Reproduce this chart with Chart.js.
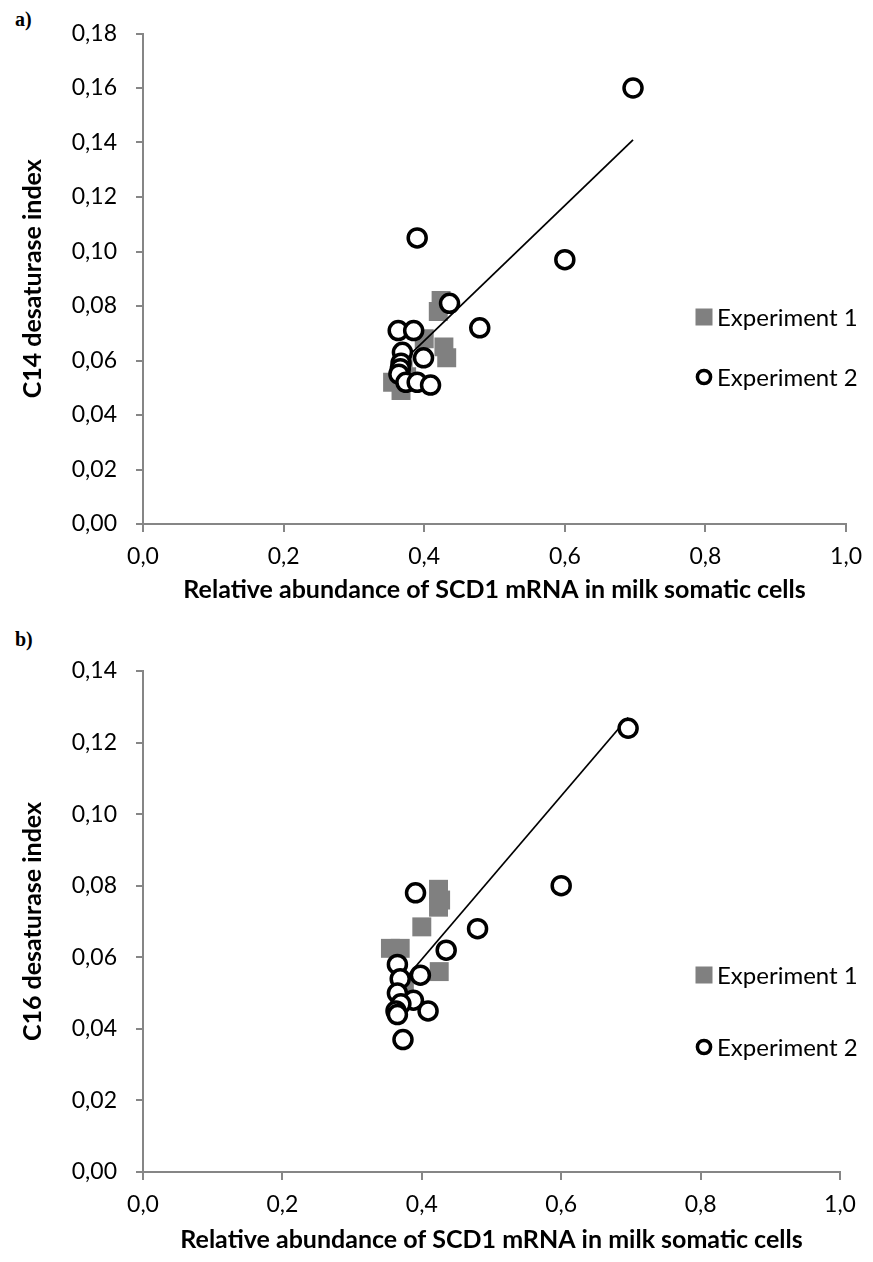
<!DOCTYPE html>
<html>
<head>
<meta charset="utf-8">
<script src="https://cdn.jsdelivr.net/npm/chart.js@4/dist/chart.umd.min.js"></script>
<style>
  body { margin: 0; background: #fff; width: 873px; height: 1262px; position: relative; overflow: hidden; }
  .panel { position: absolute; left: 0; }
  .tag { position: absolute; left: 15px; font: bold 20px "Liberation Serif", serif; color: #000; }
</style>
</head>
<body>
<div class="tag" style="top:8px">a)</div>
<div class="panel" style="top:0"><canvas id="chartA" width="873" height="615"></canvas></div>
<div class="tag" style="top:628px">b)</div>
<div class="panel" style="top:620px"><canvas id="chartB" width="873" height="642"></canvas></div>
<script>
var X_TITLE = 'Relative abundance of SCD1 mRNA in milk somatic cells';
var SERIES = ['Experiment 1', 'Experiment 2'];

// panel a: C14 index
var c14Exp1 = [[0.355, 0.052], [0.367, 0.049], [0.370, 0.058], [0.375, 0.054], [0.400, 0.068],
  [0.420, 0.078], [0.424, 0.082], [0.428, 0.065], [0.432, 0.061]];
var c14Exp2 = [[0.697, 0.160], [0.600, 0.097], [0.390, 0.105], [0.436, 0.081], [0.479, 0.072],
  [0.363, 0.071], [0.385, 0.071], [0.369, 0.063], [0.399, 0.061], [0.367, 0.059], [0.366, 0.057],
  [0.364, 0.055], [0.374, 0.052], [0.390, 0.052], [0.409, 0.051]];
var c14Trend = [[0.363, 0.058], [0.697, 0.141]];

// panel b: C16 index
var c16Exp1 = [[0.355, 0.0625], [0.369, 0.0625], [0.369, 0.049], [0.375, 0.052], [0.400, 0.0685],
  [0.424, 0.079], [0.427, 0.076], [0.424, 0.074], [0.425, 0.056]];
var c16Exp2 = [[0.696, 0.124], [0.600, 0.080], [0.391, 0.078], [0.480, 0.068], [0.435, 0.062],
  [0.365, 0.058], [0.398, 0.055], [0.369, 0.054], [0.365, 0.050], [0.388, 0.048], [0.370, 0.047],
  [0.363, 0.045], [0.365, 0.044], [0.409, 0.045], [0.373, 0.037]];
var c16Trend = [[0.363, 0.051], [0.696, 0.127]];

var AXIS_GREY = '#868686';
var FONT = 'Lato';

function pts(arr) {
  return arr.map(function(p) { return {x: p[0], y: p[1]}; });
}

// legend drawn inside the plot, like the spreadsheet original
var insideLegend = {
  id: 'insideLegend',
  afterDraw: function(chart, args, opts) {
    var ctx = chart.ctx;
    ctx.save();
    ctx.font = '24px ' + FONT;
    ctx.textBaseline = 'middle';
    SERIES.forEach(function(name, i) {
      var ds = chart.data.datasets[i];
      var y = opts.rows[i];
      if (ds.pointStyle == 'rect') {
        ctx.fillStyle = ds.backgroundColor;
        ctx.fillRect(opts.x - 8.5, y - 8.5, 17, 17);
      } else {
        ctx.beginPath();
        ctx.arc(opts.x, y, 6.6, 0, Math.PI * 2);
        ctx.fillStyle = '#fff';
        ctx.fill();
        ctx.lineWidth = 3.5;
        ctx.strokeStyle = '#000';
        ctx.stroke();
      }
      ctx.fillStyle = '#000';
      ctx.fillText(name, opts.x + 13, y + 1);
    });
    ctx.restore();
  }
};

function makeChart(id, exp1, exp2, trend, yMax, yTitle, box) {
  return new Chart(document.getElementById(id), {
    type: 'scatter',
    data: {
      datasets: [{
        label: SERIES[0],
        data: pts(exp1),
        pointStyle: 'rect',
        pointRadius: 13.4,
        backgroundColor: '#808080',
        borderWidth: 0,
        order: 2
      }, {
        label: SERIES[1],
        data: pts(exp2),
        pointStyle: 'circle',
        pointRadius: 9,
        backgroundColor: '#fff',
        borderColor: '#000',
        borderWidth: 3.5,
        order: 0
      }, {
        type: 'line',
        label: 'trend',
        data: pts(trend),
        borderColor: '#000',
        borderWidth: 1.75,
        pointRadius: 0,
        fill: false,
        order: 1
      }]
    },
    options: {
      responsive: false,
      animation: false,
      devicePixelRatio: 1,
      layout: { padding: { left: 14, top: box.top, right: box.right, bottom: box.bottom } },
      plugins: {
        legend: { display: false },
        tooltip: { enabled: false },
        insideLegend: { x: box.legendX, rows: box.legendRows }
      },
      scales: {
        x: {
          type: 'linear',
          min: 0,
          max: 1,
          afterFit: function(s) { s.height = box.xHeight; },
          ticks: {
            stepSize: 0.2,
            color: '#000',
            padding: 11,
            font: { family: FONT, size: 23 },
            callback: function(v) { return v.toFixed(1).replace('.', ','); }
          },
          grid: { drawOnChartArea: false, color: AXIS_GREY, lineWidth: 2, tickLength: 8 },
          border: { color: AXIS_GREY, width: 2 },
          title: {
            display: true,
            text: X_TITLE,
            color: '#000',
            font: { family: FONT, size: 25, weight: 'bold' },
            padding: { top: 4, bottom: 4 }
          }
        },
        y: {
          type: 'linear',
          min: 0,
          max: yMax,
          afterFit: function(s) { s.width = 143 - 14; },
          ticks: {
            stepSize: 0.02,
            color: '#000',
            padding: 19,
            font: { family: FONT, size: 23 },
            callback: function(v) { return v.toFixed(2).replace('.', ','); }
          },
          grid: { drawOnChartArea: false, color: AXIS_GREY, lineWidth: 2, tickLength: 7 },
          border: { color: AXIS_GREY, width: 2 },
          title: {
            display: true,
            text: yTitle,
            color: '#000',
            font: { family: FONT, size: 25, weight: 'bold' },
            padding: { top: 4, bottom: 4 }
          }
        }
      }
    },
    plugins: [insideLegend]
  });
}

makeChart('chartA', c14Exp1, c14Exp2, c14Trend, 0.18, 'C14 desaturase index',
  { top: 33.5, right: 20, bottom: 6, xHeight: 85, legendX: 704, legendRows: [317, 377] });
makeChart('chartB', c16Exp1, c16Exp2, c16Trend, 0.14, 'C16 desaturase index',
  { top: 51, right: 33, bottom: 3, xHeight: 87, legendX: 704, legendRows: [355, 427] });
</script>
</body>
</html>
